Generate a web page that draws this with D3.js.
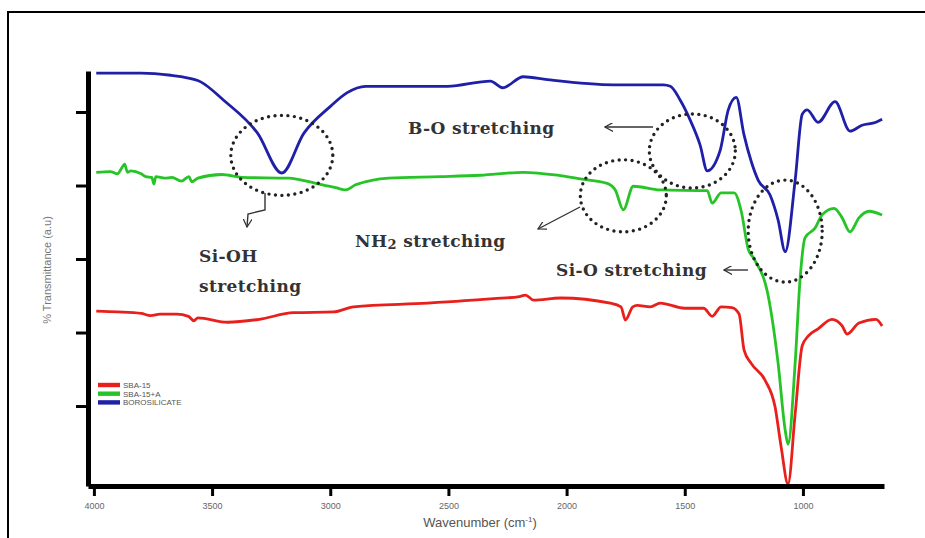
<!DOCTYPE html>
<html>
<head>
<meta charset="utf-8">
<script src="https://cdn.jsdelivr.net/npm/d3@7"></script>
<style>
  body { margin: 0; background: #fff; }
  svg { display: block; }
</style>
</head>
<body>
<div id="chart"></div>
<script>
// wavenumber (cm-1) ticks, unlabeled transmittance ticks (a.u.)
const xTicks = [4000, 3500, 3000, 2500, 2000, 1500, 1000];
const yTicks = [1, 2, 3, 4, 5];
const seriesNames = ["SBA-15", "SBA-15+A", "BOROSILICATE"];

// [wavenumber, transmittance a.u.]
const sba15 = [
  [3990, 2.29], [3900, 2.28], [3800, 2.26], [3760, 2.23], [3720, 2.25], [3650, 2.25], [3600, 2.22],
  [3577, 2.16], [3560, 2.20], [3434, 2.14], [3300, 2.18], [3155, 2.27], [2986, 2.28],
  [2901, 2.35], [2588, 2.40], [2309, 2.46], [2200, 2.49], [2174, 2.51], [2140, 2.44],
  [2026, 2.47], [1815, 2.40], [1770, 2.35], [1751, 2.17], [1720, 2.35], [1701, 2.37],
  [1646, 2.35], [1604, 2.40], [1500, 2.33], [1420, 2.33], [1384, 2.22], [1346, 2.35],
  [1300, 2.34], [1270, 2.25], [1249, 1.76], [1219, 1.58], [1160, 1.35], [1118, 0.99],
  [1092, 0.44], [1063, -0.06], [1033, 0.89], [1003, 1.82], [978, 1.95], [936, 2.05],
  [877, 2.18], [834, 2.09], [813, 1.98], [763, 2.13], [691, 2.18], [665, 2.09]
];

const sba15a = [
  [3990, 4.18], [3930, 4.19], [3900, 4.16], [3882, 4.24], [3870, 4.29], [3858, 4.18],
  [3844, 4.20], [3800, 4.16], [3780, 4.12], [3755, 4.11], [3746, 4.02], [3738, 4.12],
  [3700, 4.10], [3670, 4.11], [3630, 4.06], [3598, 4.12], [3586, 4.05], [3560, 4.10],
  [3459, 4.15], [3374, 4.11], [3176, 4.10], [3062, 4.03], [2977, 3.97], [2935, 3.94],
  [2893, 4.01], [2825, 4.07], [2753, 4.10], [2533, 4.12], [2364, 4.14], [2183, 4.18],
  [2039, 4.14], [1942, 4.09], [1828, 4.03], [1794, 3.94], [1760, 3.67], [1718, 3.99],
  [1604, 3.94], [1405, 3.93], [1384, 3.76], [1346, 3.90], [1291, 3.90], [1261, 3.65],
  [1232, 3.14], [1206, 3.00], [1147, 2.50], [1105, 1.58], [1075, 0.67], [1063, 0.48],
  [1033, 1.58], [1012, 2.73], [991, 3.29], [949, 3.42], [919, 3.60], [868, 3.69],
  [834, 3.56], [801, 3.37], [763, 3.56], [720, 3.65], [665, 3.60]
];

const borosilicate = [
  [3990, 5.53], [3800, 5.53], [3675, 5.50], [3632, 5.48], [3548, 5.41], [3451, 5.16],
  [3307, 4.71], [3205, 4.17], [3112, 4.71], [2998, 5.08], [2930, 5.26], [2850, 5.35],
  [2787, 5.35], [2504, 5.35], [2322, 5.42], [2271, 5.33], [2183, 5.48], [2081, 5.44],
  [1802, 5.37], [1591, 5.37], [1561, 5.35], [1519, 5.16], [1477, 4.89], [1435, 4.55],
  [1405, 4.20], [1350, 4.48], [1316, 5.03], [1282, 5.20], [1250, 4.70], [1219, 4.33],
  [1189, 4.07], [1139, 3.87], [1105, 3.53], [1075, 3.10], [1033, 4.07], [1003, 4.97],
  [982, 5.03], [936, 4.86], [864, 5.14], [801, 4.74], [750, 4.82], [691, 4.86], [665, 4.90]
];

const seriesValues = [sba15, sba15a, borosilicate];
const seriesColors = ["#e8201c", "#27c427", "#1f1fa8"];

// dotted rings around the bands: [wavenumber, value]
const ringCentres = [[3205, 4.41], [1760, 3.86], [1468, 4.47], [1075, 3.38]];
const ringRadii = [[51, 40], [43, 36], [43, 37], [37, 51]];

const width = 925, height = 538;

const svg = d3.select("#chart").append("svg")
  .attr("width", width)
  .attr("height", height);

// outer frame, runs off the right and bottom
svg.append("rect")
  .attr("x", 8).attr("y", 12)
  .attr("width", 940).attr("height", 560)
  .attr("fill", "none")
  .attr("stroke", "#000")
  .attr("stroke-width", 2);

const x = d3.scaleLinear().domain([4025, 657]).range([88, 884]);
const y = d3.scaleLinear().domain([-0.088, 5.558]).range([486, 71]);

const line = d3.line()
  .x(d => x(d[0]))
  .y(d => y(d[1]))
  .curve(d3.curveMonotoneX);

svg.selectAll("path.spectrum")
  .data(seriesValues)
  .join("path")
    .attr("class", "spectrum")
    .attr("d", line)
    .attr("fill", "none")
    .attr("stroke", (d, i) => seriesColors[i])
    .attr("stroke-width", 2.8)
    .attr("stroke-linejoin", "round");

// axes
const xAxis = svg.append("g")
  .attr("transform", `translate(0, ${y.range()[0]})`)
  .call(d3.axisBottom(x).tickValues(xTicks).tickSize(10).tickSizeOuter(0).tickFormat(d3.format("d")));
xAxis.select(".domain").attr("stroke", "#000").attr("stroke-width", 5);
xAxis.selectAll(".tick line").attr("stroke", "#000").attr("stroke-width", 3);
xAxis.selectAll(".tick text")
  .attr("y", 17)
  .attr("fill", "#666")
  .style("font-family", "'Liberation Sans Narrow', 'Liberation Sans', sans-serif")
  .style("font-size", "9px");

const yAxis = svg.append("g")
  .attr("transform", `translate(${x.range()[0]}, 0)`)
  .call(d3.axisLeft(y).tickValues(yTicks).tickSize(12).tickSizeOuter(0).tickFormat(""));
yAxis.select(".domain").attr("stroke", "#000").attr("stroke-width", 5);
yAxis.selectAll(".tick line").attr("stroke", "#000").attr("stroke-width", 3);

// axis titles
const xTitle = svg.append("text")
  .attr("x", 480).attr("y", 527)
  .attr("text-anchor", "middle")
  .attr("fill", "#555")
  .style("font-family", "'Liberation Sans Narrow', 'Liberation Sans', sans-serif")
  .style("font-size", "13px")
  .text("Wavenumber (cm");
xTitle.append("tspan").attr("dy", -5).style("font-size", "8px").text("-1");
xTitle.append("tspan").attr("dy", 5).text(")");

svg.append("text")
  .attr("transform", "translate(51, 270) rotate(-90)")
  .attr("text-anchor", "middle")
  .attr("fill", "#777")
  .style("font-family", "'Liberation Sans', sans-serif")
  .style("font-size", "11px")
  .text("% Transmittance (a.u)");

// legend
const legend = svg.append("g");
seriesNames.forEach((name, i) => {
  const g = legend.append("g").attr("transform", `translate(98, ${385 + i * 8.7})`);
  g.append("rect").attr("x", 0).attr("y", -2.2).attr("width", 22).attr("height", 4.4)
    .attr("fill", seriesColors[i]);
  g.append("text").attr("x", 25).attr("y", 3)
    .attr("fill", "#555")
    .style("font-family", "'Liberation Sans Narrow', 'Liberation Sans', sans-serif")
    .style("font-size", "8px")
    .text(name);
});

// dotted rings
svg.selectAll("ellipse.ring")
  .data(ringCentres)
  .join("ellipse")
    .attr("class", "ring")
    .attr("cx", d => x(d[0]))
    .attr("cy", d => y(d[1]))
    .attr("rx", (d, i) => ringRadii[i][0])
    .attr("ry", (d, i) => ringRadii[i][1])
    .attr("fill", "none")
    .attr("stroke", "#222")
    .attr("stroke-width", 3.4)
    .attr("stroke-linecap", "round")
    .attr("stroke-dasharray", "0 6.5");

// labels
const labelFont = "'DejaVu Serif', 'Liberation Serif', serif";
function label(txt, lx, ly) {
  return svg.append("text")
    .attr("x", lx).attr("y", ly)
    .attr("fill", "#333")
    .style("font-family", labelFont)
    .style("font-weight", "bold")
    .style("font-size", "17px")
    .style("letter-spacing", "0.4px")
    .text(txt);
}
label("B-O stretching", 408, 134);
label("Si-O stretching", 556, 276);
label("Si-OH", 199, 262);
label("stretching", 199, 292);
const nh = label("NH", 355, 247);
nh.append("tspan").attr("dy", 2).style("font-size", "13px").text("2");
nh.append("tspan").attr("dy", -2).text(" stretching");

// arrows
svg.append("defs").append("marker")
  .attr("id", "head")
  .attr("viewBox", "0 0 10 10")
  .attr("refX", 9).attr("refY", 5)
  .attr("markerWidth", 9).attr("markerHeight", 9)
  .attr("markerUnits", "userSpaceOnUse")
  .attr("orient", "auto")
  .append("path")
    .attr("d", "M0,0 L9,5 L0,10")
    .attr("fill", "none")
    .attr("stroke", "#333")
    .attr("stroke-width", 1.4);

const arrows = [
  [[653, 127], [605, 127]],
  [[580, 207], [538, 229]],
  [[748, 270], [724, 270]],
  [[265, 193], [265, 210], [248, 214], [247, 227]]
];
svg.selectAll("polyline.arrow")
  .data(arrows)
  .join("polyline")
    .attr("class", "arrow")
    .attr("points", d => d.join(" "))
    .attr("fill", "none")
    .attr("stroke", "#333")
    .attr("stroke-width", 1.4)
    .attr("marker-end", "url(#head)");
</script>
</body>
</html>
